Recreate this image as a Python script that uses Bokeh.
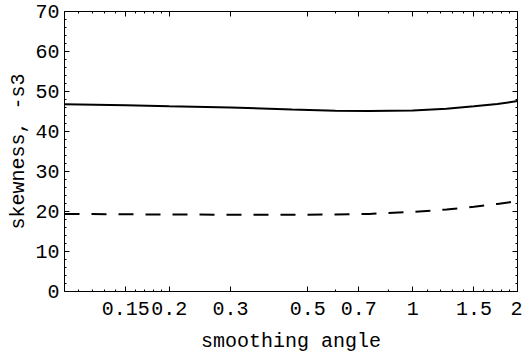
from bokeh.plotting import figure
from bokeh.models import FixedTicker, LogAxis, LinearAxis, CustomJSTickFormatter, Range1d
from bokeh.embed import file_html
from bokeh.resources import INLINE

angle = [0.1, 0.15, 0.2, 0.3, 0.45, 0.6, 0.75, 1.0, 1.25, 1.5, 1.75, 2.0]
skew_solid = [46.8, 46.55, 46.3, 46.0, 45.5, 45.2, 45.1, 45.25, 45.7, 46.3, 46.9, 47.6]
skew_dashed = [19.4, 19.3, 19.25, 19.2, 19.2, 19.25, 19.4, 19.9, 20.5, 21.2, 21.9, 22.6]

x_major = [0.15, 0.2, 0.3, 0.5, 0.7, 1, 1.5, 2]
x_minor = [0.11, 0.12, 0.13, 0.14, 0.16, 0.17, 0.18, 0.19, 0.6, 0.85,
           1.1, 1.2, 1.3, 1.4, 1.6, 1.7, 1.8, 1.9]
y_major = list(range(0, 71, 10))
y_minor = list(range(0, 71, 2))

FONT = "Liberation Mono"
FS = "20px"

p = figure(width=522, height=356, x_axis_type="log",
           x_range=Range1d(0.1, 2), y_range=Range1d(0, 70),
           output_backend="svg", toolbar_location=None,
           min_border_left=64, min_border_right=5,
           min_border_top=11, min_border_bottom=65)
p.grid.visible = False
p.outline_line_color = None
p.background_fill_color = "white"
p.border_fill_color = "white"

xt = FixedTicker(ticks=x_major, minor_ticks=x_minor)
yt = FixedTicker(ticks=y_major, minor_ticks=y_minor)
fmt = CustomJSTickFormatter(code="return String(Math.round(tick*100)/100);")
blank = CustomJSTickFormatter(code="return '';")


def style(ax, labels=True):
    ax.axis_line_color = "black"
    ax.axis_line_width = 1
    ax.major_tick_in = 5
    ax.major_tick_out = 0
    ax.minor_tick_in = 2
    ax.minor_tick_out = 0
    ax.major_tick_line_color = "black"
    ax.minor_tick_line_color = "black"
    if labels:
        ax.major_label_text_font = FONT
        ax.major_label_text_font_size = FS
        ax.major_label_text_color = "black"
        ax.major_label_standoff = 5
        ax.axis_label_text_font = FONT
        ax.axis_label_text_font_size = FS
        ax.axis_label_text_font_style = "normal"
        ax.axis_label_text_color = "black"
        ax.axis_label_standoff = 8
    else:
        ax.formatter = blank
        ax.major_label_standoff = 0
        ax.axis_label = None


p.xaxis.ticker = xt
p.xaxis.formatter = fmt
p.yaxis.ticker = yt
p.xaxis.axis_label = "smoothing angle"
p.yaxis.axis_label = "skewness, -s3"
style(p.xaxis[0])
style(p.yaxis[0])
p.xaxis[0].major_label_standoff = 10
p.xaxis[0].axis_label_standoff = 12
p.yaxis[0].axis_label_standoff = 2

top = LogAxis(ticker=FixedTicker(ticks=x_major, minor_ticks=x_minor))
right = LinearAxis(ticker=FixedTicker(ticks=y_major, minor_ticks=y_minor))
style(top, labels=False)
style(right, labels=False)
p.add_layout(top, "above")
p.add_layout(right, "right")

p.line(angle, skew_solid, line_color="black", line_width=2)
p.line(angle, skew_dashed, line_color="black", line_width=2, line_dash="15 12")

open("out.html", "w").write(file_html(p, INLINE))
